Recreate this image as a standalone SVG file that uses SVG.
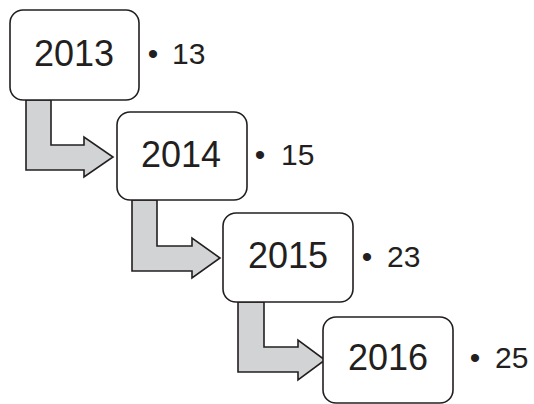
<svg xmlns="http://www.w3.org/2000/svg" width="534" height="404" viewBox="0 0 534 404">
<style>
.box{fill:#fff;stroke:#231f20;stroke-width:1.6}
.arr{fill:#d1d3d4;stroke:#231f20;stroke-width:1.6;stroke-linejoin:miter}
.yr{font-family:"Liberation Sans",Arial,sans-serif;font-size:36px;fill:#231f20;text-anchor:middle}
.val{font-family:"Liberation Sans",Arial,sans-serif;font-size:30px;fill:#231f20}
.bul{font-family:"Liberation Sans",Arial,sans-serif;font-size:30px;fill:#231f20;text-anchor:middle}
</style>
<rect width="534" height="404" fill="#fff"/>
<g id="connectors">
<path class="arr" d="M26,100 L51,100 L51,145 L84,145 L84,137 L113,157 L84,177 L84,170 L26,170 Z"/>
<path class="arr" d="M132,200 L157,200 L157,246 L192,246 L192,238 L220,258 L192,278 L192,271 L132,271 Z"/>
<path class="arr" d="M238,302 L264,302 L264,347 L298,347 L298,340 L325,360 L298,380 L298,372 L238,372 Z"/>
</g>
<g id="node2013">
<rect class="box" x="10" y="10" width="129" height="90" rx="13"/>
<text class="yr" x="74" y="66">2013</text>
<text class="bul" x="153" y="64">•</text>
<text class="val" x="172" y="64">13</text>
</g>
<g id="node2014">
<rect class="box" x="117" y="112" width="130" height="88" rx="13"/>
<text class="yr" x="181" y="167">2014</text>
<text class="bul" x="260" y="165">•</text>
<text class="val" x="281" y="165">15</text>
</g>
<g id="node2015">
<rect class="box" x="223" y="213" width="130" height="89" rx="13"/>
<text class="yr" x="288" y="268">2015</text>
<text class="bul" x="367" y="267">•</text>
<text class="val" x="387" y="267">23</text>
</g>
<g id="node2016">
<rect class="box" x="323" y="317" width="130" height="86" rx="13"/>
<text class="yr" x="388" y="370">2016</text>
<text class="bul" x="475" y="368">•</text>
<text class="val" x="495" y="368">25</text>
</g>
</svg>
